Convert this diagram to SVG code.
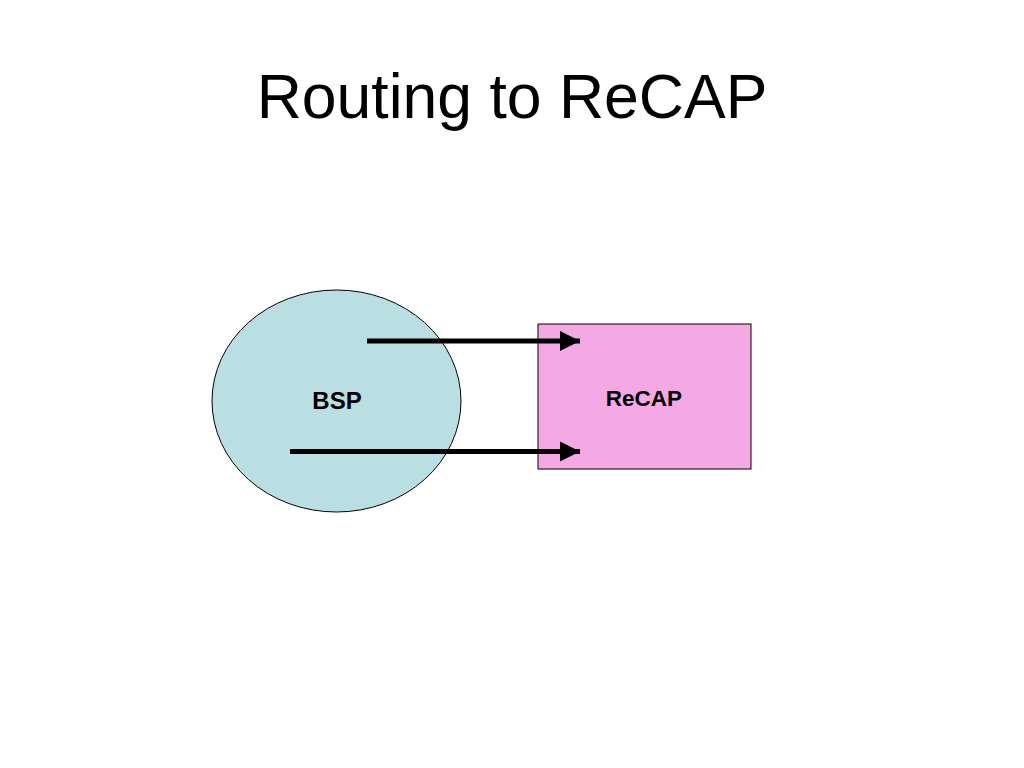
<svg xmlns="http://www.w3.org/2000/svg" width="1024" height="768" viewBox="0 0 1024 768">
<style>
.title{font-family:"Liberation Sans",Arial,sans-serif;font-size:62.5px;fill:#000}
.lbl{font-family:"Liberation Sans",Arial,sans-serif;font-weight:bold;fill:#000}
.conn{stroke:#000;stroke-width:5;fill:none}
</style>
<defs>
<marker id="ah" markerUnits="userSpaceOnUse" markerWidth="24" markerHeight="22" refX="22" refY="11" orient="auto" viewBox="0 0 24 22">
<path d="M2,1 L22,11 L2,21 Z" fill="#000"/>
</marker>
</defs>
<rect width="1024" height="768" fill="#fff"/>
<text class="title" x="512" y="118" text-anchor="middle">Routing to ReCAP</text>
<g id="bsp">
<ellipse cx="336.5" cy="401" rx="124.5" ry="111" fill="#badfe3" stroke="#000" stroke-width="1"/>
<text class="lbl" x="337" y="409" font-size="24" text-anchor="middle">BSP</text>
</g>
<g id="recap">
<rect x="538" y="324" width="213" height="145" fill="#f4a8e4" stroke="#000" stroke-width="1"/>
<text class="lbl" x="644" y="406" font-size="22.5" text-anchor="middle">ReCAP</text>
</g>
<g id="connectors">
<line class="conn" x1="367" y1="341" x2="580" y2="341" marker-end="url(#ah)"/>
<line class="conn" x1="290" y1="451.5" x2="580" y2="451.5" marker-end="url(#ah)"/>
</g>
</svg>
